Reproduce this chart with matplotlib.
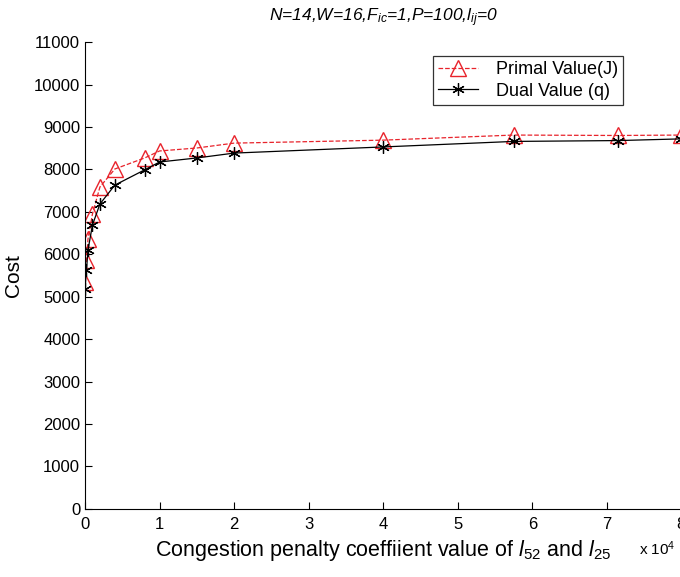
import matplotlib
matplotlib.use("Agg")
import matplotlib.pyplot as plt
import numpy as np

plt.rcParams['font.family'] = ['Liberation Sans', 'DejaVu Sans']
plt.rcParams['mathtext.fontset'] = 'custom'
plt.rcParams['mathtext.rm'] = 'Liberation Sans'
plt.rcParams['mathtext.it'] = 'Liberation Sans:italic'

# penalty coefficient values (x 10^4 shown on axis)
penalty = [0, 200, 400, 1000, 2000, 4000, 8000, 10000, 15000, 20000,
           40000, 57500, 71500, 80000]
primal = [5350, 5870, 6360, 6950, 7585, 8010, 8270, 8435, 8505, 8620,
          8690, 8810, 8800, 8810]
dual = [5180, 5630, 6100, 6690, 7185, 7630, 7990, 8175, 8270, 8385,
        8530, 8660, 8680, 8720]

fig = plt.figure(figsize=(6.8, 5.77), dpi=100)
ax = fig.add_axes([0.125, 0.118, 0.877, 0.809])

x_scaled = np.array(penalty) / 1e4
ax.plot(x_scaled, primal, '--', color='#e8232b', lw=0.9, marker='^',
        markersize=12, markerfacecolor='none', markeredgecolor='#e8232b',
        markeredgewidth=1.0, label='Primal Value(J)', zorder=2)
ax.plot(x_scaled, dual, '-', color='black', lw=0.9, marker=(6, 2, 0),
        markersize=9, markeredgecolor='black',
        markeredgewidth=0.9, label='Dual Value (q)', zorder=3)

ax.set_xlim(0, 8)
ax.set_ylim(0, 11000)
ax.set_xticks(range(0, 9))
ax.set_yticks(range(0, 11001, 1000))
ax.tick_params(direction='in', labelsize=12, length=5, width=0.8)
ax.tick_params(axis='x', pad=6)
ax.spines['top'].set_visible(False)
ax.spines['right'].set_visible(False)

ax.set_title(r'N=14,W=16,F$_{ic}$=1,P=100,l$_{ij}$=0', fontsize=12.5,
             fontstyle='italic', pad=15)
ax.set_xlabel(r'Congestion penalty coeffiient value of $l_{52}$ and $l_{25}$',
              fontsize=15.5, labelpad=4)
ax.set_ylabel('Cost', fontsize=15, labelpad=8)
fig.text(0.94, 0.033, r'x 10$^{4}$', fontsize=11, ha='left', va='bottom')

leg = ax.legend(loc='upper left', bbox_to_anchor=(0.568, 0.99), fontsize=13,
                frameon=True, fancybox=False, edgecolor='black',
                handlelength=2.2, borderpad=0.3, labelspacing=0.25,
                handletextpad=1.0)
leg.get_frame().set_linewidth(0.9)

fig.savefig('out.png', dpi=100)
